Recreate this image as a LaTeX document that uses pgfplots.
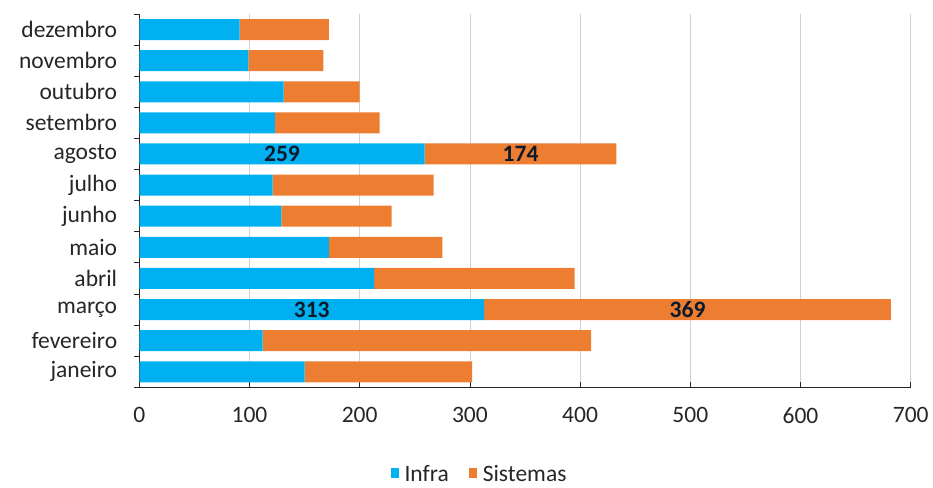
\documentclass[border=0pt]{standalone}
\usepackage{fontspec}
\setmainfont{Carlito}
\usepackage{pgfplots}
\pgfplotsset{compat=1.18}
\usepackage{pgfplotstable}
\definecolor{infra}{HTML}{00B0F0}
\definecolor{sist}{HTML}{ED7D31}
\definecolor{lbl}{HTML}{0D1A2B}
\definecolor{txt}{HTML}{262626}

\pgfplotstableread{
y infra sist linf lsis
0 150 152 {} {}
1 112 298 {} {}
2 313 369 313 369
3 213 182 {} {}
4 172 103 {} {}
5 129 100 {} {}
6 121 146 {} {}
7 259 174 259 174
8 123 95 {} {}
9 131 69 {} {}
10 99 68 {} {}
11 91 81 {} {}
}\data

\begin{document}
\begin{tikzpicture}
\begin{axis}[
  name=ax,
  scale only axis, width=771.4bp, height=373.3bp,
  xbar stacked, bar width=21bp,
  xmin=0, xmax=700, ymin=-0.5, ymax=11.5,
  axis lines*=left,
  axis line style={txt, line width=1.2pt},
  xtick={0,100,...,700},
  xmajorgrids,
  major x grid style={black!18, line width=0.8pt},
  tick align=outside, major tick length=5bp,
  major x tick style={yshift=5bp, txt, line width=0.8pt},
  major y tick style={txt, line width=0.8pt},
  ytick={-0.5,0.5,...,11.5}, yticklabels={},
  extra y ticks={0,1,...,11},
  extra y tick labels={janeiro,fevereiro,março,abril,maio,junho,julho,agosto,setembro,outubro,novembro,dezembro},
  extra y tick style={major tick style={draw=none}, yticklabel style={inner sep=0pt, xshift=-17bp}},
  /pgf/number format/assume math mode=true,
  tick label style={font=\fontsize{23.6}{28}\selectfont, text=txt},
  xticklabel style={inner sep=0pt, yshift=-15bp},
  legend style={at={(0.441,-0.232)}, anchor=center, draw=none, fill=none, inner sep=0pt,
    nodes={inner ysep=0pt},
    legend columns=2, font=\fontsize{23.6}{27}\selectfont, text=txt,
    /tikz/every even column/.append style={column sep=18bp}},
  legend image code/.code={\fill[#1] (0bp,-4bp) rectangle (8bp,6bp); \path (0bp,0bp) -- (12bp,0bp);},
  point meta=explicit symbolic,
  nodes near coords,
  every node near coord/.append style={anchor=center,
    font=\bfseries\fontsize{23.6}{28}\selectfont, text=lbl},
]
\addplot[fill=infra, draw=none] table[x=infra, y=y, meta=linf] {\data};
\addplot[fill=sist, draw=none] table[x=sist, y=y, meta=lsis] {\data};
\legend{Infra, Sistemas}
\end{axis}
\pgfresetboundingbox
\path[use as bounding box] ([xshift=-139.3bp,yshift=-99.7bp]ax.south west) rectangle ([xshift=22.3bp,yshift=14bp]ax.north east);
\end{tikzpicture}
\end{document}
